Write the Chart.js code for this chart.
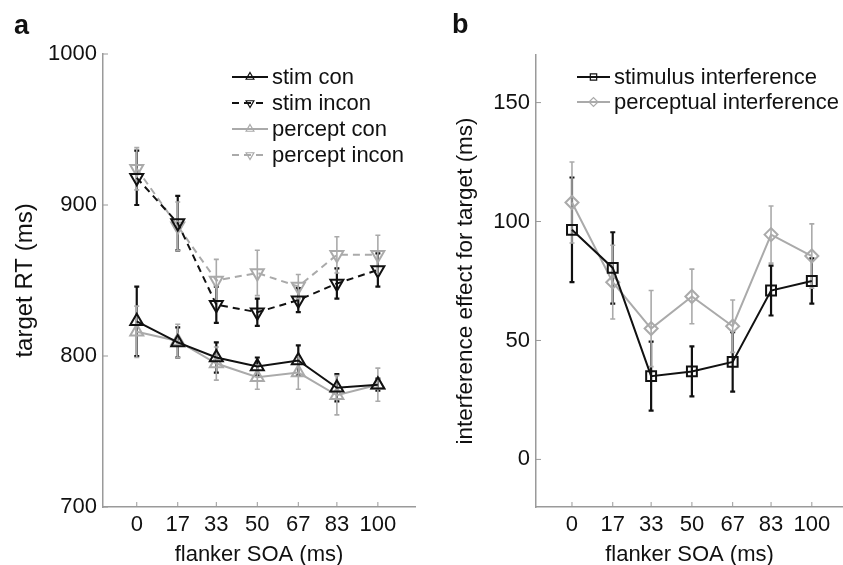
<!DOCTYPE html>
<html>
<head>
<meta charset="utf-8">
<script src="https://cdn.jsdelivr.net/npm/chart.js@4.4.1/dist/chart.umd.min.js"></script>
<style>
  body { margin: 0; background: #fff; }
  #page { position: relative; width: 843px; height: 565px; overflow: hidden; font-family: "Liberation Sans", Arial, sans-serif; }
  canvas { position: absolute; top: 0; }
  #canvasA { left: 0; }
  #canvasB { left: 420px; }
  .letter { position: absolute; font: bold 27px "Liberation Sans", Arial, sans-serif; color: #111; line-height: 1; }
</style>
</head>
<body>
<div id="page">
  <canvas id="canvasA" width="420" height="565"></canvas>
  <canvas id="canvasB" width="423" height="565"></canvas>
  <div class="letter" style="left:14px;top:12px">a</div>
  <div class="letter" style="left:452px;top:11px">b</div>
</div>
<script>
// flanker SOA (ms)
const soaValues = [0, 17, 33, 50, 67, 83, 100];

// panel a: target RT (ms)
const stimCon = [823, 809, 799, 793, 797, 779, 781];
const stimConErr = [23, 10, 10, 6, 10, 9, 4];
const stimIncon = [918, 888, 834, 829, 837, 848, 857];
const stimInconErr = [18, 18, 12, 9, 8, 10, 11];
const perceptCon = [816, 810, 795, 786, 789, 774, 781];
const perceptConErr = [17, 11, 11, 8, 11, 13, 11];
const perceptIncon = [924, 886, 850, 855, 846, 867, 867];
const perceptInconErr = [14, 16, 14, 15, 8, 12, 13];

// panel b: interference effect for target (ms)
const stimInterf = [96.5, 80.5, 35, 37, 41, 71, 75];
const stimInterfErr = [22, 15, 14.5, 10.5, 12.5, 10.5, 9.5];
const percInterf = [108, 74.5, 55, 68.5, 56, 94.5, 85.5];
const percInterfErr = [17, 15.5, 16, 11.5, 11, 12, 13.5];

const ticksA = [700, 800, 900, 1000];
const ticksB = [0, 50, 100, 150];

const BLACK = "#111111";
const GRAY = "#aaaaaa";
const AXIS = "#9a9a9a";
const FONT = "'Liberation Sans', Arial, sans-serif";

function points(values) {
  return values.map((v, i) => ({ x: soaValues[i], y: v }));
}

function series(label, values, errors, color, dash, style, rotation, radius) {
  return {
    label: label,
    data: points(values),
    errors: errors,
    borderColor: color,
    backgroundColor: "rgba(0,0,0,0)",
    borderWidth: 2,
    borderDash: dash,
    pointStyle: style,
    rotation: rotation,
    pointRadius: radius,
    pointBorderWidth: 2,
    pointBackgroundColor: "rgba(0,0,0,0)",
    pointBorderColor: color,
    tension: 0
  };
}

// error bars, inward ticks and MATLAB-like legend
const figurePlugin = {
  id: "figure",
  beforeDatasetsDraw(chart) {
    const ctx = chart.ctx;
    const ys = chart.scales.y;
    const xs = chart.scales.x;
    ctx.save();
    chart.data.datasets.forEach(ds => {
      ctx.strokeStyle = ds.borderColor;
      ctx.lineWidth = ds.borderColor === BLACK ? 2.2 : 1.6;
      ds.data.forEach((p, i) => {
        const px = xs.getPixelForValue(p.x);
        const top = ys.getPixelForValue(p.y + ds.errors[i]);
        const bot = ys.getPixelForValue(p.y - ds.errors[i]);
        ctx.beginPath();
        ctx.moveTo(px, top); ctx.lineTo(px, bot);
        ctx.moveTo(px - 2.5, top); ctx.lineTo(px + 2.5, top);
        ctx.moveTo(px - 2.5, bot); ctx.lineTo(px + 2.5, bot);
        ctx.stroke();
      });
    });
    ctx.restore();
  },
  afterDraw(chart, args, opts) {
    const ctx = chart.ctx;
    const area = chart.chartArea;
    ctx.save();
    ctx.strokeStyle = AXIS;
    ctx.lineWidth = 1;
    chart.scales.x.ticks.forEach(t => {
      const px = chart.scales.x.getPixelForValue(t.value);
      ctx.beginPath(); ctx.moveTo(px, area.bottom); ctx.lineTo(px, area.bottom - 5); ctx.stroke();
    });
    chart.scales.y.ticks.forEach(t => {
      const py = chart.scales.y.getPixelForValue(t.value);
      ctx.beginPath(); ctx.moveTo(area.left, py); ctx.lineTo(area.left + 5, py); ctx.stroke();
    });
    // legend
    ctx.font = "22px " + FONT;
    ctx.textBaseline = "middle";
    chart.data.datasets.forEach((ds, i) => {
      const y = opts.y + i * opts.rowGap;
      ctx.strokeStyle = ds.borderColor;
      ctx.lineWidth = 2;
      ctx.setLineDash(ds.borderDash || []);
      ctx.beginPath(); ctx.moveTo(opts.x, y); ctx.lineTo(opts.x + opts.len, y); ctx.stroke();
      ctx.setLineDash([]);
      ctx.lineWidth = 1.2;
      ctx.fillStyle = "rgba(0,0,0,0)";
      Chart.helpers.drawPoint(ctx, { pointStyle: ds.pointStyle, rotation: ds.rotation, radius: opts.marker, borderWidth: 1.2 }, opts.x + opts.len / 2, y);
      ctx.fillStyle = BLACK;
      ctx.fillText(ds.label, opts.x + opts.len + 4, y + 1);
    });
    ctx.restore();
  }
};

function axisOptions(xMin, xMax, yMin, yMax, yTicks, yTitle, yWidth, yTitleSize, yTitlePad) {
  return {
    x: {
      type: "linear",
      min: xMin,
      max: xMax,
      afterBuildTicks: s => { s.ticks = soaValues.map(v => ({ value: v })); },
      afterFit: s => { s.height = 58; s.paddingLeft = 0; s.paddingRight = 0; },
      grid: { drawOnChartArea: false, drawTicks: false },
      border: { color: AXIS, width: 1.5 },
      ticks: { color: BLACK, font: { family: FONT, size: 22 }, padding: 5, maxRotation: 0, autoSkip: false, callback: v => String(v) },
      title: { display: true, text: "flanker SOA (ms)", color: BLACK, font: { family: FONT, size: 22 }, padding: { top: 0, bottom: -3 } }
    },
    y: {
      min: yMin,
      max: yMax,
      afterBuildTicks: s => { s.ticks = yTicks.map(v => ({ value: v })); },
      afterFit: s => { s.width = yWidth; s.paddingTop = 0; s.paddingBottom = 0; },
      grid: { drawOnChartArea: false, drawTicks: false },
      border: { color: AXIS, width: 1.5 },
      ticks: { color: BLACK, font: { family: FONT, size: 22 }, padding: 6, callback: v => String(v) },
      title: { display: true, text: yTitle, color: BLACK, font: { family: FONT, size: yTitleSize }, padding: { top: yTitlePad, bottom: 0 } }
    }
  };
}

new Chart(document.getElementById("canvasA").getContext("2d"), {
  type: "line",
  data: {
    datasets: [
      series("stim con", stimCon, stimConErr, BLACK, [], "triangle", 0, 7.5),
      series("stim incon", stimIncon, stimInconErr, BLACK, [7, 5], "triangle", 180, 7.5),
      series("percept con", perceptCon, perceptConErr, GRAY, [], "triangle", 0, 7.5),
      series("percept incon", perceptIncon, perceptInconErr, GRAY, [7, 5], "triangle", 180, 7.5)
    ]
  },
  options: {
    responsive: false,
    animation: false,
    layout: { autoPadding: false, padding: { top: 54, right: 5, left: 0, bottom: 0 } },
    scales: axisOptions(-14, 115.4, 700, 1000, ticksA, "target RT (ms)", 103, 24, 11),
    plugins: {
      legend: { display: false },
      tooltip: { enabled: false },
      figure: { x: 232, y: 77, rowGap: 26, len: 36, marker: 4.5 }
    }
  },
  plugins: [figurePlugin]
});

new Chart(document.getElementById("canvasB").getContext("2d"), {
  type: "line",
  data: {
    datasets: [
      series("stimulus interference", stimInterf, stimInterfErr, BLACK, [], "rect", 0, 7),
      series("perceptual interference", percInterf, percInterfErr, GRAY, [], "rectRot", 0, 6.5)
    ]
  },
  options: {
    responsive: false,
    animation: false,
    layout: { autoPadding: false, padding: { top: 55, right: 0, left: 0, bottom: 0 } },
    scales: axisOptions(-15, 113, -20, 170, ticksB, "interference effect for target (ms)", 116, 22.5, 32),
    plugins: {
      legend: { display: false },
      tooltip: { enabled: false },
      figure: { x: 157, y: 77, rowGap: 25, len: 33, marker: 4.5 }
    }
  },
  plugins: [figurePlugin]
});
</script>
</body>
</html>
